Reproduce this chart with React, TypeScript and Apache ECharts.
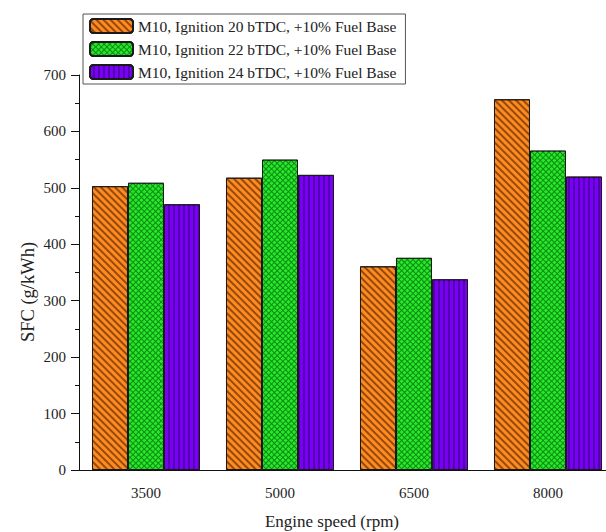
import React, { useEffect, useRef } from "react";
import * as echarts from "echarts";

const categories = ["3500", "5000", "6500", "8000"];
const seriesNames = [
  "M10, Ignition 20 bTDC, +10% Fuel Base",
  "M10, Ignition 22 bTDC, +10% Fuel Base",
  "M10, Ignition 24 bTDC, +10% Fuel Base",
];
const ign20 = [503, 518, 361, 657];
const ign22 = [509, 550, 376, 566];
const ign24 = [471, 523, 338, 520];
const xTitle = "Engine speed (rpm)";
const yTitle = "SFC (g/kWh)";

const FONT = "'Liberation Serif', 'Times New Roman', serif";

export default function App() {
  const ref = useRef<HTMLDivElement>(null);
  useEffect(() => {
    if (!ref.current) return;
    const chart = echarts.init(ref.current, null, { renderer: "svg" });
    const border = { borderColor: "#1a1a1a", borderWidth: 1 };
    chart.setOption({
      animation: false,
      backgroundColor: "#ffffff",
      textStyle: { fontFamily: FONT },
      legend: {
        orient: "vertical",
        left: 83,
        top: 14,
        itemWidth: 43,
        itemHeight: 14,
        itemGap: 7,
        padding: [4, 9, 4, 6],
        borderColor: "#555",
        borderWidth: 1,
        textStyle: { fontFamily: FONT, fontSize: 15.5, color: "#222" },
        data: seriesNames,
      },
      grid: {
        left: 79,
        top: 75,
        width: 536,
        height: 395,
        containLabel: false,
        outerBoundsMode: "none",
      },
      xAxis: [
        {
          type: "category",
          data: categories,
          axisLine: { lineStyle: { color: "#111", width: 1 } },
          axisTick: { alignWithLabel: true, length: 8, lineStyle: { color: "#111" } },
          axisLabel: { fontFamily: FONT, fontSize: 15, color: "#222", margin: 15 },
        },
        {
          type: "category",
          data: categories,
          position: "bottom",
          axisLine: { show: false },
          axisTick: { length: 5, lineStyle: { color: "#111" } },
          axisLabel: { show: false },
        },
      ],
      yAxis: {
        type: "value",
        min: 0,
        max: 700,
        interval: 100,
        axisLine: { show: true, lineStyle: { color: "#111", width: 1 } },
        axisTick: { show: true, length: 8, lineStyle: { color: "#111" } },
        minorTick: { show: true, splitNumber: 2, length: 4, lineStyle: { color: "#111" } },
        splitLine: { show: false },
        axisLabel: { fontFamily: FONT, fontSize: 15, color: "#222", margin: 13 },
      },
      graphic: [
        {
          type: "text",
          x: 332,
          y: 521,
          style: {
            text: xTitle,
            font: `17px ${FONT}`,
            fill: "#222",
            align: "center",
            verticalAlign: "middle",
          },
        },
        {
          type: "text",
          x: 28,
          y: 292,
          rotation: Math.PI / 2,
          style: {
            text: yTitle,
            font: `18.5px ${FONT}`,
            fill: "#222",
            align: "center",
            verticalAlign: "middle",
          },
        },
      ],
      series: [
        {
          name: seriesNames[0],
          type: "bar",
          data: ign20,
          barGap: "0%",
          barCategoryGap: "19.4%",
          itemStyle: {
            color: "#FF8A1E",
            ...border,
            decal: {
              symbol: "rect",
              symbolSize: 1,
              color: "rgba(60,20,0,0.55)",
              dashArrayX: [1, 0],
              dashArrayY: [1.2, 2.6],
              rotation: Math.PI / 4,
            },
          },
        },
        {
          name: seriesNames[1],
          type: "bar",
          data: ign22,
          barGap: "0%",
          barCategoryGap: "19.4%",
          itemStyle: {
            color: "#0E8A12",
            ...border,
            decal: {
              symbol: "rect",
              symbolSize: 1,
              color: "#27E82A",
              dashArrayX: [2.2, 1],
              dashArrayY: [2.2, 1],
              rotation: Math.PI / 4,
            },
          },
        },
        {
          name: seriesNames[2],
          type: "bar",
          data: ign24,
          barGap: "0%",
          barCategoryGap: "19.4%",
          itemStyle: {
            color: "#7A00F5",
            ...border,
            decal: {
              symbol: "rect",
              symbolSize: 1,
              color: "rgba(40,0,90,0.45)",
              dashArrayX: [1, 0],
              dashArrayY: [1.2, 3],
              rotation: Math.PI / 2,
            },
          },
        },
      ],
    });
    return () => chart.dispose();
  }, []);
  return <div ref={ref} style={{ width: 606, height: 532, position: "absolute", left: 0, top: 0 }} />;
}
